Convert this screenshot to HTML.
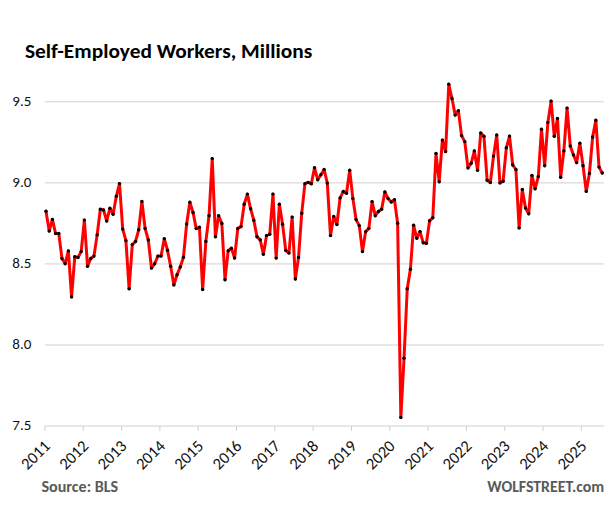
<!DOCTYPE html><html><head><meta charset="utf-8"><style>html,body{margin:0;padding:0;background:#fff;}svg{display:block;}</style></head><body>
<svg width="613" height="505" viewBox="0 0 613 505">
<rect width="613" height="505" fill="#fff"/>
<line x1="44.8" y1="101.8" x2="603.6" y2="101.8" stroke="#d0d0d0" stroke-width="1"/>
<line x1="44.8" y1="182.87" x2="603.6" y2="182.87" stroke="#d0d0d0" stroke-width="1"/>
<line x1="44.8" y1="263.93" x2="603.6" y2="263.93" stroke="#d0d0d0" stroke-width="1"/>
<line x1="44.8" y1="345.0" x2="603.6" y2="345.0" stroke="#d0d0d0" stroke-width="1"/>
<line x1="44.8" y1="426.0" x2="603.6" y2="426.0" stroke="#d0d0d0" stroke-width="1"/>
<line x1="44.90" y1="426.0" x2="44.90" y2="431.0" stroke="#d0d0d0" stroke-width="1"/>
<line x1="83.22" y1="426.0" x2="83.22" y2="431.0" stroke="#d0d0d0" stroke-width="1"/>
<line x1="121.54" y1="426.0" x2="121.54" y2="431.0" stroke="#d0d0d0" stroke-width="1"/>
<line x1="159.86" y1="426.0" x2="159.86" y2="431.0" stroke="#d0d0d0" stroke-width="1"/>
<line x1="198.18" y1="426.0" x2="198.18" y2="431.0" stroke="#d0d0d0" stroke-width="1"/>
<line x1="236.50" y1="426.0" x2="236.50" y2="431.0" stroke="#d0d0d0" stroke-width="1"/>
<line x1="274.82" y1="426.0" x2="274.82" y2="431.0" stroke="#d0d0d0" stroke-width="1"/>
<line x1="313.14" y1="426.0" x2="313.14" y2="431.0" stroke="#d0d0d0" stroke-width="1"/>
<line x1="351.46" y1="426.0" x2="351.46" y2="431.0" stroke="#d0d0d0" stroke-width="1"/>
<line x1="389.78" y1="426.0" x2="389.78" y2="431.0" stroke="#d0d0d0" stroke-width="1"/>
<line x1="428.10" y1="426.0" x2="428.10" y2="431.0" stroke="#d0d0d0" stroke-width="1"/>
<line x1="466.42" y1="426.0" x2="466.42" y2="431.0" stroke="#d0d0d0" stroke-width="1"/>
<line x1="504.74" y1="426.0" x2="504.74" y2="431.0" stroke="#d0d0d0" stroke-width="1"/>
<line x1="543.06" y1="426.0" x2="543.06" y2="431.0" stroke="#d0d0d0" stroke-width="1"/>
<line x1="581.38" y1="426.0" x2="581.38" y2="431.0" stroke="#d0d0d0" stroke-width="1"/>
<text x="31.3" y="106.1" text-anchor="end" font-family="Carlito, 'Liberation Sans', sans-serif" font-size="15" fill="#111" textLength="19" lengthAdjust="spacingAndGlyphs">9.5</text>
<text x="31.3" y="187.2" text-anchor="end" font-family="Carlito, 'Liberation Sans', sans-serif" font-size="15" fill="#111" textLength="19" lengthAdjust="spacingAndGlyphs">9.0</text>
<text x="31.3" y="268.2" text-anchor="end" font-family="Carlito, 'Liberation Sans', sans-serif" font-size="15" fill="#111" textLength="19" lengthAdjust="spacingAndGlyphs">8.5</text>
<text x="31.3" y="349.3" text-anchor="end" font-family="Carlito, 'Liberation Sans', sans-serif" font-size="15" fill="#111" textLength="19" lengthAdjust="spacingAndGlyphs">8.0</text>
<text x="31.3" y="430.3" text-anchor="end" font-family="Carlito, 'Liberation Sans', sans-serif" font-size="15" fill="#111" textLength="19" lengthAdjust="spacingAndGlyphs">7.5</text>
<text transform="translate(39.30,458.80) rotate(-45)" text-anchor="middle" font-family="Carlito, 'Liberation Sans', sans-serif" font-size="16.5" fill="#111" textLength="33.45" lengthAdjust="spacingAndGlyphs">2011</text>
<text transform="translate(77.62,458.80) rotate(-45)" text-anchor="middle" font-family="Carlito, 'Liberation Sans', sans-serif" font-size="16.5" fill="#111" textLength="33.45" lengthAdjust="spacingAndGlyphs">2012</text>
<text transform="translate(115.94,458.80) rotate(-45)" text-anchor="middle" font-family="Carlito, 'Liberation Sans', sans-serif" font-size="16.5" fill="#111" textLength="33.45" lengthAdjust="spacingAndGlyphs">2013</text>
<text transform="translate(154.26,458.80) rotate(-45)" text-anchor="middle" font-family="Carlito, 'Liberation Sans', sans-serif" font-size="16.5" fill="#111" textLength="33.45" lengthAdjust="spacingAndGlyphs">2014</text>
<text transform="translate(192.58,458.80) rotate(-45)" text-anchor="middle" font-family="Carlito, 'Liberation Sans', sans-serif" font-size="16.5" fill="#111" textLength="33.45" lengthAdjust="spacingAndGlyphs">2015</text>
<text transform="translate(230.90,458.80) rotate(-45)" text-anchor="middle" font-family="Carlito, 'Liberation Sans', sans-serif" font-size="16.5" fill="#111" textLength="33.45" lengthAdjust="spacingAndGlyphs">2016</text>
<text transform="translate(269.22,458.80) rotate(-45)" text-anchor="middle" font-family="Carlito, 'Liberation Sans', sans-serif" font-size="16.5" fill="#111" textLength="33.45" lengthAdjust="spacingAndGlyphs">2017</text>
<text transform="translate(307.54,458.80) rotate(-45)" text-anchor="middle" font-family="Carlito, 'Liberation Sans', sans-serif" font-size="16.5" fill="#111" textLength="33.45" lengthAdjust="spacingAndGlyphs">2018</text>
<text transform="translate(345.86,458.80) rotate(-45)" text-anchor="middle" font-family="Carlito, 'Liberation Sans', sans-serif" font-size="16.5" fill="#111" textLength="33.45" lengthAdjust="spacingAndGlyphs">2019</text>
<text transform="translate(384.18,458.80) rotate(-45)" text-anchor="middle" font-family="Carlito, 'Liberation Sans', sans-serif" font-size="16.5" fill="#111" textLength="33.45" lengthAdjust="spacingAndGlyphs">2020</text>
<text transform="translate(422.50,458.80) rotate(-45)" text-anchor="middle" font-family="Carlito, 'Liberation Sans', sans-serif" font-size="16.5" fill="#111" textLength="33.45" lengthAdjust="spacingAndGlyphs">2021</text>
<text transform="translate(460.82,458.80) rotate(-45)" text-anchor="middle" font-family="Carlito, 'Liberation Sans', sans-serif" font-size="16.5" fill="#111" textLength="33.45" lengthAdjust="spacingAndGlyphs">2022</text>
<text transform="translate(499.14,458.80) rotate(-45)" text-anchor="middle" font-family="Carlito, 'Liberation Sans', sans-serif" font-size="16.5" fill="#111" textLength="33.45" lengthAdjust="spacingAndGlyphs">2023</text>
<text transform="translate(537.46,458.80) rotate(-45)" text-anchor="middle" font-family="Carlito, 'Liberation Sans', sans-serif" font-size="16.5" fill="#111" textLength="33.45" lengthAdjust="spacingAndGlyphs">2024</text>
<text transform="translate(575.78,458.80) rotate(-45)" text-anchor="middle" font-family="Carlito, 'Liberation Sans', sans-serif" font-size="16.5" fill="#111" textLength="33.45" lengthAdjust="spacingAndGlyphs">2025</text>
<polyline points="46.00,211.20 49.20,231.00 52.39,219.40 55.59,233.50 58.79,233.50 61.98,258.50 65.18,263.70 68.38,250.90 71.57,296.90 74.77,256.80 77.97,257.50 81.16,251.60 84.36,220.10 87.56,266.30 90.75,258.50 93.95,256.10 97.15,234.90 100.34,209.20 103.54,210.00 106.74,221.00 109.93,208.20 113.13,214.20 116.33,196.30 119.52,183.60 122.72,229.10 125.92,240.60 129.11,288.80 132.31,244.60 135.51,241.50 138.70,229.80 141.90,201.50 145.10,228.40 148.29,240.00 151.49,268.10 154.69,263.70 157.88,256.10 161.08,256.10 164.28,238.70 167.47,250.20 170.67,266.30 173.87,284.90 177.06,274.70 180.26,267.00 183.46,257.20 186.65,224.00 189.85,202.20 193.05,212.50 196.24,228.60 199.44,227.30 202.64,289.50 205.83,241.50 209.03,215.80 212.23,158.60 215.43,236.80 218.62,215.80 221.82,223.40 225.02,279.70 228.21,250.70 231.41,248.30 234.61,258.00 237.80,228.40 241.00,226.60 244.20,204.30 247.39,194.10 250.59,208.70 253.79,220.20 256.98,236.70 260.18,239.80 263.38,254.30 266.57,235.40 269.77,234.20 272.97,194.10 276.16,258.10 279.36,204.30 282.56,224.20 285.75,250.40 288.95,253.10 292.15,217.10 295.34,279.00 298.54,257.40 301.74,213.20 304.93,183.70 308.13,182.40 311.33,183.80 314.52,167.80 317.72,179.70 320.92,174.80 324.11,169.50 327.31,183.10 330.51,235.60 333.70,216.40 336.90,224.50 340.10,197.90 343.29,191.40 346.49,193.30 349.69,170.20 352.88,198.60 356.08,219.60 359.28,225.60 362.47,251.60 365.67,231.60 368.87,228.40 372.06,201.60 375.26,215.70 378.46,211.50 381.65,209.30 384.85,192.00 388.05,198.50 391.24,202.00 394.44,199.70 397.64,223.30 400.83,417.50 404.03,358.30 407.23,288.70 410.42,269.30 413.62,225.30 416.82,238.20 420.01,231.60 423.21,242.70 426.41,243.30 429.60,220.80 432.80,217.70 436.00,153.50 439.19,181.70 442.39,140.10 445.59,151.60 448.78,84.30 451.98,98.50 455.18,115.10 458.37,110.70 461.57,135.60 464.77,141.60 467.96,167.90 471.16,163.30 474.36,150.90 477.55,170.30 480.75,133.00 483.95,136.30 487.14,180.30 490.34,182.50 493.54,156.10 496.73,135.00 499.93,182.90 503.13,181.20 506.32,147.80 509.52,136.10 512.72,165.00 515.91,169.50 519.11,227.90 522.31,189.40 525.50,208.00 528.70,213.70 531.90,175.40 535.10,188.80 538.29,176.60 541.49,129.20 544.69,165.70 547.88,122.40 551.08,101.10 554.28,136.30 557.47,118.50 560.67,177.30 563.87,150.90 567.06,108.10 570.26,145.90 573.46,154.90 576.65,162.60 579.85,143.30 583.05,165.70 586.24,191.40 589.44,173.40 592.64,137.00 595.83,120.30 599.03,167.10 602.23,173.00" fill="none" stroke="#ff0000" stroke-width="3" stroke-linejoin="round" stroke-linecap="round"/>
<circle cx="46.00" cy="211.20" r="1.7" fill="#000"/>
<circle cx="49.20" cy="231.00" r="1.7" fill="#000"/>
<circle cx="52.39" cy="219.40" r="1.7" fill="#000"/>
<circle cx="55.59" cy="233.50" r="1.7" fill="#000"/>
<circle cx="58.79" cy="233.50" r="1.7" fill="#000"/>
<circle cx="61.98" cy="258.50" r="1.7" fill="#000"/>
<circle cx="65.18" cy="263.70" r="1.7" fill="#000"/>
<circle cx="68.38" cy="250.90" r="1.7" fill="#000"/>
<circle cx="71.57" cy="296.90" r="1.7" fill="#000"/>
<circle cx="74.77" cy="256.80" r="1.7" fill="#000"/>
<circle cx="77.97" cy="257.50" r="1.7" fill="#000"/>
<circle cx="81.16" cy="251.60" r="1.7" fill="#000"/>
<circle cx="84.36" cy="220.10" r="1.7" fill="#000"/>
<circle cx="87.56" cy="266.30" r="1.7" fill="#000"/>
<circle cx="90.75" cy="258.50" r="1.7" fill="#000"/>
<circle cx="93.95" cy="256.10" r="1.7" fill="#000"/>
<circle cx="97.15" cy="234.90" r="1.7" fill="#000"/>
<circle cx="100.34" cy="209.20" r="1.7" fill="#000"/>
<circle cx="103.54" cy="210.00" r="1.7" fill="#000"/>
<circle cx="106.74" cy="221.00" r="1.7" fill="#000"/>
<circle cx="109.93" cy="208.20" r="1.7" fill="#000"/>
<circle cx="113.13" cy="214.20" r="1.7" fill="#000"/>
<circle cx="116.33" cy="196.30" r="1.7" fill="#000"/>
<circle cx="119.52" cy="183.60" r="1.7" fill="#000"/>
<circle cx="122.72" cy="229.10" r="1.7" fill="#000"/>
<circle cx="125.92" cy="240.60" r="1.7" fill="#000"/>
<circle cx="129.11" cy="288.80" r="1.7" fill="#000"/>
<circle cx="132.31" cy="244.60" r="1.7" fill="#000"/>
<circle cx="135.51" cy="241.50" r="1.7" fill="#000"/>
<circle cx="138.70" cy="229.80" r="1.7" fill="#000"/>
<circle cx="141.90" cy="201.50" r="1.7" fill="#000"/>
<circle cx="145.10" cy="228.40" r="1.7" fill="#000"/>
<circle cx="148.29" cy="240.00" r="1.7" fill="#000"/>
<circle cx="151.49" cy="268.10" r="1.7" fill="#000"/>
<circle cx="154.69" cy="263.70" r="1.7" fill="#000"/>
<circle cx="157.88" cy="256.10" r="1.7" fill="#000"/>
<circle cx="161.08" cy="256.10" r="1.7" fill="#000"/>
<circle cx="164.28" cy="238.70" r="1.7" fill="#000"/>
<circle cx="167.47" cy="250.20" r="1.7" fill="#000"/>
<circle cx="170.67" cy="266.30" r="1.7" fill="#000"/>
<circle cx="173.87" cy="284.90" r="1.7" fill="#000"/>
<circle cx="177.06" cy="274.70" r="1.7" fill="#000"/>
<circle cx="180.26" cy="267.00" r="1.7" fill="#000"/>
<circle cx="183.46" cy="257.20" r="1.7" fill="#000"/>
<circle cx="186.65" cy="224.00" r="1.7" fill="#000"/>
<circle cx="189.85" cy="202.20" r="1.7" fill="#000"/>
<circle cx="193.05" cy="212.50" r="1.7" fill="#000"/>
<circle cx="196.24" cy="228.60" r="1.7" fill="#000"/>
<circle cx="199.44" cy="227.30" r="1.7" fill="#000"/>
<circle cx="202.64" cy="289.50" r="1.7" fill="#000"/>
<circle cx="205.83" cy="241.50" r="1.7" fill="#000"/>
<circle cx="209.03" cy="215.80" r="1.7" fill="#000"/>
<circle cx="212.23" cy="158.60" r="1.7" fill="#000"/>
<circle cx="215.43" cy="236.80" r="1.7" fill="#000"/>
<circle cx="218.62" cy="215.80" r="1.7" fill="#000"/>
<circle cx="221.82" cy="223.40" r="1.7" fill="#000"/>
<circle cx="225.02" cy="279.70" r="1.7" fill="#000"/>
<circle cx="228.21" cy="250.70" r="1.7" fill="#000"/>
<circle cx="231.41" cy="248.30" r="1.7" fill="#000"/>
<circle cx="234.61" cy="258.00" r="1.7" fill="#000"/>
<circle cx="237.80" cy="228.40" r="1.7" fill="#000"/>
<circle cx="241.00" cy="226.60" r="1.7" fill="#000"/>
<circle cx="244.20" cy="204.30" r="1.7" fill="#000"/>
<circle cx="247.39" cy="194.10" r="1.7" fill="#000"/>
<circle cx="250.59" cy="208.70" r="1.7" fill="#000"/>
<circle cx="253.79" cy="220.20" r="1.7" fill="#000"/>
<circle cx="256.98" cy="236.70" r="1.7" fill="#000"/>
<circle cx="260.18" cy="239.80" r="1.7" fill="#000"/>
<circle cx="263.38" cy="254.30" r="1.7" fill="#000"/>
<circle cx="266.57" cy="235.40" r="1.7" fill="#000"/>
<circle cx="269.77" cy="234.20" r="1.7" fill="#000"/>
<circle cx="272.97" cy="194.10" r="1.7" fill="#000"/>
<circle cx="276.16" cy="258.10" r="1.7" fill="#000"/>
<circle cx="279.36" cy="204.30" r="1.7" fill="#000"/>
<circle cx="282.56" cy="224.20" r="1.7" fill="#000"/>
<circle cx="285.75" cy="250.40" r="1.7" fill="#000"/>
<circle cx="288.95" cy="253.10" r="1.7" fill="#000"/>
<circle cx="292.15" cy="217.10" r="1.7" fill="#000"/>
<circle cx="295.34" cy="279.00" r="1.7" fill="#000"/>
<circle cx="298.54" cy="257.40" r="1.7" fill="#000"/>
<circle cx="301.74" cy="213.20" r="1.7" fill="#000"/>
<circle cx="304.93" cy="183.70" r="1.7" fill="#000"/>
<circle cx="308.13" cy="182.40" r="1.7" fill="#000"/>
<circle cx="311.33" cy="183.80" r="1.7" fill="#000"/>
<circle cx="314.52" cy="167.80" r="1.7" fill="#000"/>
<circle cx="317.72" cy="179.70" r="1.7" fill="#000"/>
<circle cx="320.92" cy="174.80" r="1.7" fill="#000"/>
<circle cx="324.11" cy="169.50" r="1.7" fill="#000"/>
<circle cx="327.31" cy="183.10" r="1.7" fill="#000"/>
<circle cx="330.51" cy="235.60" r="1.7" fill="#000"/>
<circle cx="333.70" cy="216.40" r="1.7" fill="#000"/>
<circle cx="336.90" cy="224.50" r="1.7" fill="#000"/>
<circle cx="340.10" cy="197.90" r="1.7" fill="#000"/>
<circle cx="343.29" cy="191.40" r="1.7" fill="#000"/>
<circle cx="346.49" cy="193.30" r="1.7" fill="#000"/>
<circle cx="349.69" cy="170.20" r="1.7" fill="#000"/>
<circle cx="352.88" cy="198.60" r="1.7" fill="#000"/>
<circle cx="356.08" cy="219.60" r="1.7" fill="#000"/>
<circle cx="359.28" cy="225.60" r="1.7" fill="#000"/>
<circle cx="362.47" cy="251.60" r="1.7" fill="#000"/>
<circle cx="365.67" cy="231.60" r="1.7" fill="#000"/>
<circle cx="368.87" cy="228.40" r="1.7" fill="#000"/>
<circle cx="372.06" cy="201.60" r="1.7" fill="#000"/>
<circle cx="375.26" cy="215.70" r="1.7" fill="#000"/>
<circle cx="378.46" cy="211.50" r="1.7" fill="#000"/>
<circle cx="381.65" cy="209.30" r="1.7" fill="#000"/>
<circle cx="384.85" cy="192.00" r="1.7" fill="#000"/>
<circle cx="388.05" cy="198.50" r="1.7" fill="#000"/>
<circle cx="391.24" cy="202.00" r="1.7" fill="#000"/>
<circle cx="394.44" cy="199.70" r="1.7" fill="#000"/>
<circle cx="397.64" cy="223.30" r="1.7" fill="#000"/>
<circle cx="400.83" cy="417.50" r="1.7" fill="#000"/>
<circle cx="404.03" cy="358.30" r="1.7" fill="#000"/>
<circle cx="407.23" cy="288.70" r="1.7" fill="#000"/>
<circle cx="410.42" cy="269.30" r="1.7" fill="#000"/>
<circle cx="413.62" cy="225.30" r="1.7" fill="#000"/>
<circle cx="416.82" cy="238.20" r="1.7" fill="#000"/>
<circle cx="420.01" cy="231.60" r="1.7" fill="#000"/>
<circle cx="423.21" cy="242.70" r="1.7" fill="#000"/>
<circle cx="426.41" cy="243.30" r="1.7" fill="#000"/>
<circle cx="429.60" cy="220.80" r="1.7" fill="#000"/>
<circle cx="432.80" cy="217.70" r="1.7" fill="#000"/>
<circle cx="436.00" cy="153.50" r="1.7" fill="#000"/>
<circle cx="439.19" cy="181.70" r="1.7" fill="#000"/>
<circle cx="442.39" cy="140.10" r="1.7" fill="#000"/>
<circle cx="445.59" cy="151.60" r="1.7" fill="#000"/>
<circle cx="448.78" cy="84.30" r="1.7" fill="#000"/>
<circle cx="451.98" cy="98.50" r="1.7" fill="#000"/>
<circle cx="455.18" cy="115.10" r="1.7" fill="#000"/>
<circle cx="458.37" cy="110.70" r="1.7" fill="#000"/>
<circle cx="461.57" cy="135.60" r="1.7" fill="#000"/>
<circle cx="464.77" cy="141.60" r="1.7" fill="#000"/>
<circle cx="467.96" cy="167.90" r="1.7" fill="#000"/>
<circle cx="471.16" cy="163.30" r="1.7" fill="#000"/>
<circle cx="474.36" cy="150.90" r="1.7" fill="#000"/>
<circle cx="477.55" cy="170.30" r="1.7" fill="#000"/>
<circle cx="480.75" cy="133.00" r="1.7" fill="#000"/>
<circle cx="483.95" cy="136.30" r="1.7" fill="#000"/>
<circle cx="487.14" cy="180.30" r="1.7" fill="#000"/>
<circle cx="490.34" cy="182.50" r="1.7" fill="#000"/>
<circle cx="493.54" cy="156.10" r="1.7" fill="#000"/>
<circle cx="496.73" cy="135.00" r="1.7" fill="#000"/>
<circle cx="499.93" cy="182.90" r="1.7" fill="#000"/>
<circle cx="503.13" cy="181.20" r="1.7" fill="#000"/>
<circle cx="506.32" cy="147.80" r="1.7" fill="#000"/>
<circle cx="509.52" cy="136.10" r="1.7" fill="#000"/>
<circle cx="512.72" cy="165.00" r="1.7" fill="#000"/>
<circle cx="515.91" cy="169.50" r="1.7" fill="#000"/>
<circle cx="519.11" cy="227.90" r="1.7" fill="#000"/>
<circle cx="522.31" cy="189.40" r="1.7" fill="#000"/>
<circle cx="525.50" cy="208.00" r="1.7" fill="#000"/>
<circle cx="528.70" cy="213.70" r="1.7" fill="#000"/>
<circle cx="531.90" cy="175.40" r="1.7" fill="#000"/>
<circle cx="535.10" cy="188.80" r="1.7" fill="#000"/>
<circle cx="538.29" cy="176.60" r="1.7" fill="#000"/>
<circle cx="541.49" cy="129.20" r="1.7" fill="#000"/>
<circle cx="544.69" cy="165.70" r="1.7" fill="#000"/>
<circle cx="547.88" cy="122.40" r="1.7" fill="#000"/>
<circle cx="551.08" cy="101.10" r="1.7" fill="#000"/>
<circle cx="554.28" cy="136.30" r="1.7" fill="#000"/>
<circle cx="557.47" cy="118.50" r="1.7" fill="#000"/>
<circle cx="560.67" cy="177.30" r="1.7" fill="#000"/>
<circle cx="563.87" cy="150.90" r="1.7" fill="#000"/>
<circle cx="567.06" cy="108.10" r="1.7" fill="#000"/>
<circle cx="570.26" cy="145.90" r="1.7" fill="#000"/>
<circle cx="573.46" cy="154.90" r="1.7" fill="#000"/>
<circle cx="576.65" cy="162.60" r="1.7" fill="#000"/>
<circle cx="579.85" cy="143.30" r="1.7" fill="#000"/>
<circle cx="583.05" cy="165.70" r="1.7" fill="#000"/>
<circle cx="586.24" cy="191.40" r="1.7" fill="#000"/>
<circle cx="589.44" cy="173.40" r="1.7" fill="#000"/>
<circle cx="592.64" cy="137.00" r="1.7" fill="#000"/>
<circle cx="595.83" cy="120.30" r="1.7" fill="#000"/>
<circle cx="599.03" cy="167.10" r="1.7" fill="#000"/>
<circle cx="602.23" cy="173.00" r="1.7" fill="#000"/>
<text x="24.9" y="57.5" font-family="Carlito, 'Liberation Sans', sans-serif" font-weight="bold" font-size="21" fill="#000" textLength="287.3" lengthAdjust="spacingAndGlyphs">Self-Employed Workers, Millions</text>
<text x="41.5" y="491.6" font-family="Carlito, 'Liberation Sans', sans-serif" font-weight="bold" font-size="16" fill="#5a5a5a" textLength="76.6" lengthAdjust="spacingAndGlyphs">Source: BLS</text>
<text x="487.3" y="492.0" font-family="Carlito, 'Liberation Sans', sans-serif" font-weight="bold" font-size="16" fill="#5a5a5a" textLength="116.9" lengthAdjust="spacingAndGlyphs">WOLFSTREET.com</text>
</svg></body></html>
